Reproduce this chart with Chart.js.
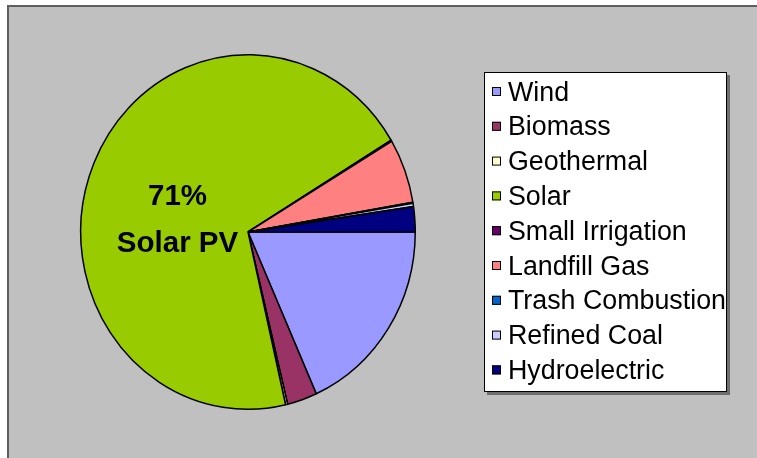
<!DOCTYPE html>
<html>
<head>
<meta charset="utf-8">
<script src="https://cdn.jsdelivr.net/npm/chart.js@4.4.0/dist/chart.umd.min.js"></script>
<style>
html, body { margin: 0; padding: 0; background: #fff; }
</style>
</head>
<body>
<canvas id="chart" width="757" height="458"></canvas>
<script>
// energy sources (percent of total)
const sources = ['Wind', 'Biomass', 'Geothermal', 'Solar', 'Small Irrigation',
  'Landfill Gas', 'Trash Combustion', 'Refined Coal', 'Hydroelectric'];
const shares = [18.4, 2.9, 0.2, 70.3, 0.1, 5.9, 0.1, 0.3, 2.3];
const colors = ['#9999FF', '#993366', '#FFFFCC', '#99CC00', '#660066',
  '#FF8080', '#0066CC', '#CCCCFF', '#000080'];
const callout = ['71%', 'Solar PV'];

const font = '"Liberation Sans", Arial, sans-serif';

// gray plot background with the dark top/left edge
const frame = {
  id: 'frame',
  beforeDraw(chart) {
    const c = chart.ctx;
    c.save();
    c.fillStyle = '#fff';
    c.fillRect(0, 0, chart.width, chart.height);
    c.fillStyle = '#C0C0C0';
    c.fillRect(8, 6, chart.width, chart.height);
    c.fillStyle = '#5F5F5F';
    c.fillRect(7, 5, chart.width, 2);
    c.fillRect(7, 5, 2, chart.height);
    c.restore();
  }
};

// the original pie is a bit taller than wide
const stretch = {
  id: 'stretch',
  beforeDatasetsDraw(chart) {
    const arc = chart.getDatasetMeta(0).data[0];
    const c = chart.ctx;
    c.save();
    c.translate(arc.x, arc.y);
    c.scale(1, 1.06);
    c.translate(-arc.x, -arc.y);
  },
  afterDatasetsDraw(chart) {
    chart.ctx.restore();
  }
};

// boxed legend on the right + the bold label on the solar slice
const extras = {
  id: 'extras',
  afterDraw(chart) {
    const c = chart.ctx;
    c.save();
    // legend box with shadow
    c.fillStyle = '#6E6E6E';
    c.fillRect(487, 75, 243, 320);
    c.fillStyle = '#fff';
    c.fillRect(484, 72, 243, 320);
    c.strokeStyle = '#000';
    c.lineWidth = 1;
    c.strokeRect(484.5, 72.5, 242, 319);

    c.font = '26.8px ' + font;
    c.textBaseline = 'alphabetic';
    c.textAlign = 'left';
    chart.data.labels.forEach((name, i) => {
      const cy = 91 + i * 34.8;
      c.fillStyle = chart.data.datasets[0].backgroundColor[i];
      c.fillRect(492, cy - 4, 9, 9);
      c.strokeStyle = '#000';
      c.strokeRect(492.5, cy - 3.5, 8, 8);
      c.fillStyle = '#000';
      c.fillText(name, 508, cy + 9.5);
    });

    c.font = 'bold 29.5px ' + font;
    c.textAlign = 'center';
    c.fillText(callout[0], 177.5, 194.5 + 10.5);
    c.fillText(callout[1], 177.5, 241.5 + 10.5);
    c.restore();
  }
};

new Chart(document.getElementById('chart'), {
  type: 'pie',
  data: {
    labels: sources,
    datasets: [{
      data: shares,
      backgroundColor: colors,
      borderColor: '#000',
      borderWidth: 1.5,
      hoverOffset: 0
    }]
  },
  options: {
    responsive: false,
    animation: false,
    rotation: 90,
    layout: { padding: { left: 80, right: 341, top: 64, bottom: 58 } },
    plugins: {
      legend: { display: false },
      tooltip: { enabled: false }
    }
  },
  plugins: [frame, stretch, extras]
});
</script>
</body>
</html>
